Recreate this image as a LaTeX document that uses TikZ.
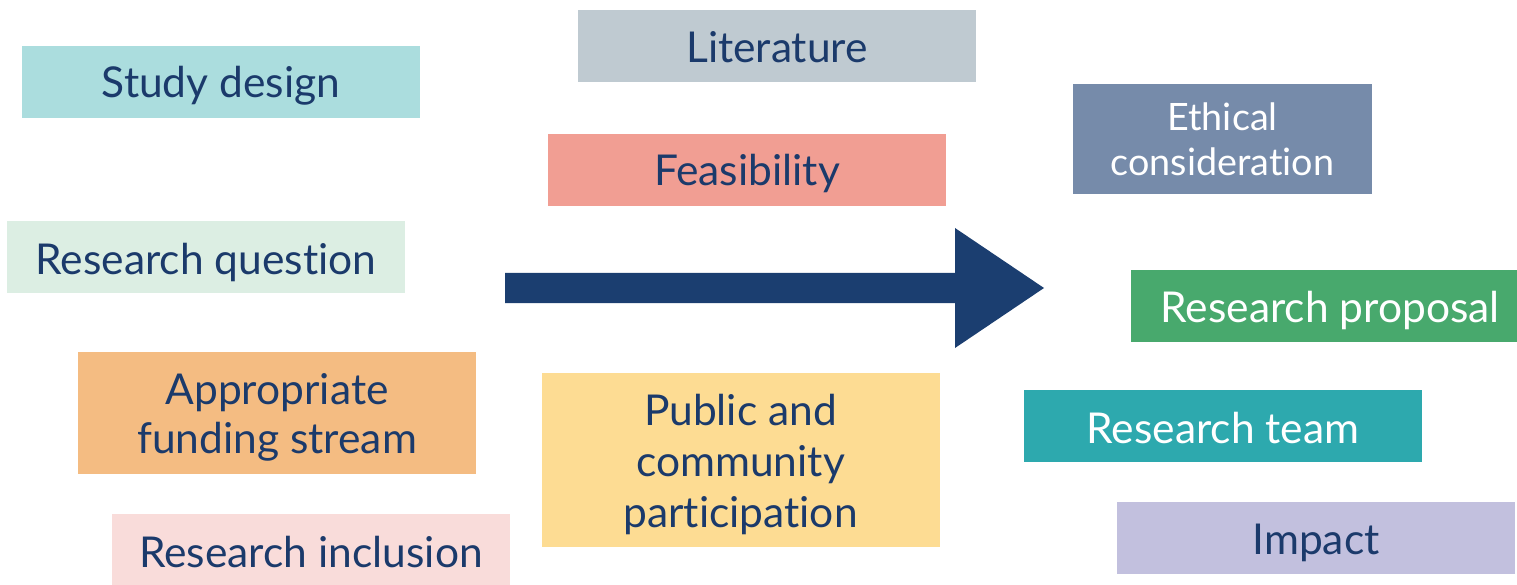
\documentclass[tikz,border=0pt]{standalone}
\usepackage{fontspec}
\setmainfont{Lato}[Ligatures=NoCommon]
\definecolor{txt}{HTML}{1B3A6B}
\definecolor{arr}{HTML}{1B3E70}
\definecolor{cStudy}{HTML}{ABDDDE}
\definecolor{cLit}{HTML}{BFCAD1}
\definecolor{cFeas}{HTML}{F19E93}
\definecolor{cEth}{HTML}{768BAA}
\definecolor{cRQ}{HTML}{DCEEE3}
\definecolor{cProp}{HTML}{48A96D}
\definecolor{cFund}{HTML}{F4BC82}
\definecolor{cPub}{HTML}{FDDC93}
\definecolor{cTeam}{HTML}{2DA9AE}
\definecolor{cIncl}{HTML}{F9DCDA}
\definecolor{cImp}{HTML}{C2C0DE}
\tikzset{
  lbl/.style={inner sep=0pt, outer sep=0pt, anchor=base, text=txt,
    font=\fontsize{42.5}{50}\selectfont},
  wlbl/.style={lbl, text=white},
  slbl/.style={lbl, text=white, font=\fontsize{37.7}{45}\selectfont}
}
\begin{document}
\begin{tikzpicture}
\useasboundingbox (0,0) rectangle (1517pt,-585pt);
% boxes
\fill[cStudy] (22pt,-46pt) rectangle (420pt,-118pt);
\fill[cLit] (578pt,-10pt) rectangle (976pt,-82pt);
\fill[cFeas] (548pt,-134pt) rectangle (946pt,-206pt);
\fill[cEth] (1073pt,-84pt) rectangle (1372pt,-194pt);
\fill[cRQ] (7pt,-221pt) rectangle (405pt,-293pt);
\fill[cProp] (1131pt,-270pt) rectangle (1517pt,-342pt);
\fill[cFund] (78pt,-352pt) rectangle (476pt,-474pt);
\fill[cPub] (542pt,-373pt) rectangle (940pt,-547pt);
\fill[cTeam] (1024pt,-390pt) rectangle (1422pt,-462pt);
\fill[cIncl] (112pt,-514pt) rectangle (510pt,-585pt);
\fill[cImp] (1117pt,-502pt) rectangle (1515pt,-574pt);
% labels
\node[lbl] (study) at (221pt,-98pt) {Study design};
\node[lbl] (lit) at (777pt,-63pt) {Literature};
\node[lbl] (feas) at (747pt,-186pt) {Feasibility};
\node[slbl] (eth1) at (1222.5pt,-131pt) {Ethical};
\node[slbl] (eth2) at (1222.5pt,-176pt) {consideration};
\node[lbl] (rq) at (206pt,-274pt) {Research question};
\node[wlbl] (prop) at (1330pt,-322pt) {Research proposal};
\node[lbl] (fund1) at (277pt,-404pt) {Appropriate};
\node[lbl] (fund2) at (277pt,-453pt) {funding stream};
\node[lbl] (pub1) at (740.5pt,-425pt) {Public and};
\node[lbl] (pub2) at (740.5pt,-476pt) {community};
\node[lbl] (pub3) at (740.5pt,-527pt) {participation};
\node[wlbl] (team) at (1223pt,-443pt) {Research team};
\node[lbl] (incl) at (311pt,-567pt) {Research inclusion};
\node[lbl] (imp) at (1316pt,-554pt) {Impact};
% arrow
\fill[arr] (505pt,-273pt) -- (955pt,-273pt) -- (955pt,-228pt) -- (1044pt,-288pt)
  -- (955pt,-348pt) -- (955pt,-303pt) -- (505pt,-303pt) -- cycle;
\end{tikzpicture}
\end{document}
